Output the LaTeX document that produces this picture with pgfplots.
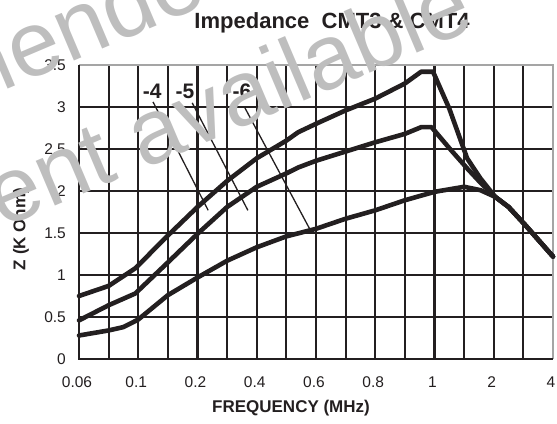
\documentclass[border=0pt]{standalone}
\usepackage{fontspec}
\setmainfont{Liberation Sans}
\usepackage{pgfplots}
\pgfplotsset{compat=1.18}
\definecolor{ink}{RGB}{35,31,32}
\definecolor{bord}{RGB}{165,165,165}
\definecolor{wm}{RGB}{190,190,190}
\begin{document}
\begin{tikzpicture}[x=1bp,y=1bp]
\path[use as bounding box] (0,0) rectangle (557,423);
\begin{axis}[at={(79bp,64bp)}, anchor=south west, scale only axis,
  width=474bp, height=294bp,
  xmin=0, xmax=16, ymin=0, ymax=3.5,
  xtick={0,1,2,3,4,5,6,7,8,9,10,11,12,13,14,15,16},
  xticklabels={0.06,,0.1,,0.2,,0.4,,0.6,,0.8,,1,,2,,4},
  ytick={0,0.5,1,1.5,2,2.5,3,3.5},
  yticklabels={0,0.5,1,1.5,2,2.5,3,3.5},
  major tick length=0pt, grid=major,
  major grid style={line width=2.1bp, color=ink},
  axis line style={draw=none},
  tick label style={font=\fontsize{15.5bp}{18bp}\selectfont, text=ink, inner sep=0pt},
  xticklabel style={anchor=center, yshift=-23bp, xshift=-2bp},
  yticklabel style={anchor=east, xshift=-13bp},
  clip=false]
\draw[bord, line width=2.2bp] (axis cs:0,3.5) -- (axis cs:16,3.5) -- (axis cs:16,0);
\draw[ink, line width=2.8bp] (axis cs:0,3.5) -- (axis cs:0,0) -- (axis cs:16,0);
% -4
\addplot[ink, line width=4.6bp, line join=round, line cap=round] coordinates {
(0,0.75)(1,0.87)(1.9,1.08)(3,1.47)(4,1.81)(5,2.12)(6,2.39)(7,2.6)(7.4,2.7)(8,2.8)(9,2.96)(10,3.10)(11,3.28)(11.55,3.42)(11.95,3.42)(12.5,2.98)(13.1,2.39)(13.55,2.15)(14.05,1.93)(14.5,1.81)(15.05,1.6)(16,1.22)};
% -5
\addplot[ink, line width=4.6bp, line join=round, line cap=round] coordinates {
(0,0.46)(1,0.64)(1.9,0.78)(3,1.15)(4,1.49)(5,1.81)(6,2.05)(7,2.21)(7.4,2.28)(8,2.36)(9,2.47)(10,2.58)(11,2.68)(11.55,2.76)(11.9,2.76)(12.5,2.51)(13.1,2.27)(13.55,2.1)(14.05,1.93)(14.5,1.81)(15.05,1.6)(16,1.22)};
% -6
\addplot[ink, line width=4.6bp, line join=round, line cap=round] coordinates {
(0,0.28)(1,0.34)(1.5,0.38)(2,0.47)(3,0.76)(4,0.97)(5,1.17)(6,1.33)(7,1.46)(8,1.55)(9,1.67)(10,1.77)(11,1.89)(12,1.99)(13,2.05)(13.55,2.01)(14.05,1.93)(14.5,1.81)(15.05,1.6)(16,1.22)};
\draw[ink, line width=1.3bp] (axis cs:2.5,3.06) -- (axis cs:4.36,1.77);
\draw[ink, line width=1.3bp] (axis cs:3.82,3.05) -- (axis cs:5.7,1.77);
\draw[ink, line width=1.3bp] (axis cs:5.6,2.99) -- (axis cs:7.8,1.54);
\node[font=\bfseries\fontsize{21bp}{24bp}\selectfont, text=ink] at (axis cs:2.47,3.19) {-4};
\node[font=\bfseries\fontsize{21bp}{24bp}\selectfont, text=ink] at (axis cs:3.58,3.19) {-5};
\node[font=\bfseries\fontsize{21bp}{24bp}\selectfont, text=ink] at (axis cs:5.5,3.19) {-6};
\end{axis}
\node[font=\bfseries\fontsize{22bp}{26bp}\selectfont, text=ink, anchor=base] at (332,394) {Impedance\ \ CMT3 \& CMT4};
\node[font=\bfseries\fontsize{17bp}{20bp}\selectfont, text=ink, anchor=base] at (291,11) {FREQUENCY (MHz)};
\node[font=\bfseries\fontsize{17bp}{20bp}\selectfont, text=ink, rotate=90] at (21,194) {Z (K Ohm)};
\node[text=wm, font=\fontsize{92bp}{96bp}\selectfont, rotate=23, anchor=base west, inner sep=0pt] at (-440,144) {Not recommended for new designs};
\node[text=wm, font=\fontsize{92bp}{96bp}\selectfont, rotate=23, anchor=base east, inner sep=0pt] at (478,396) {replacement available};
\end{tikzpicture}
\end{document}
